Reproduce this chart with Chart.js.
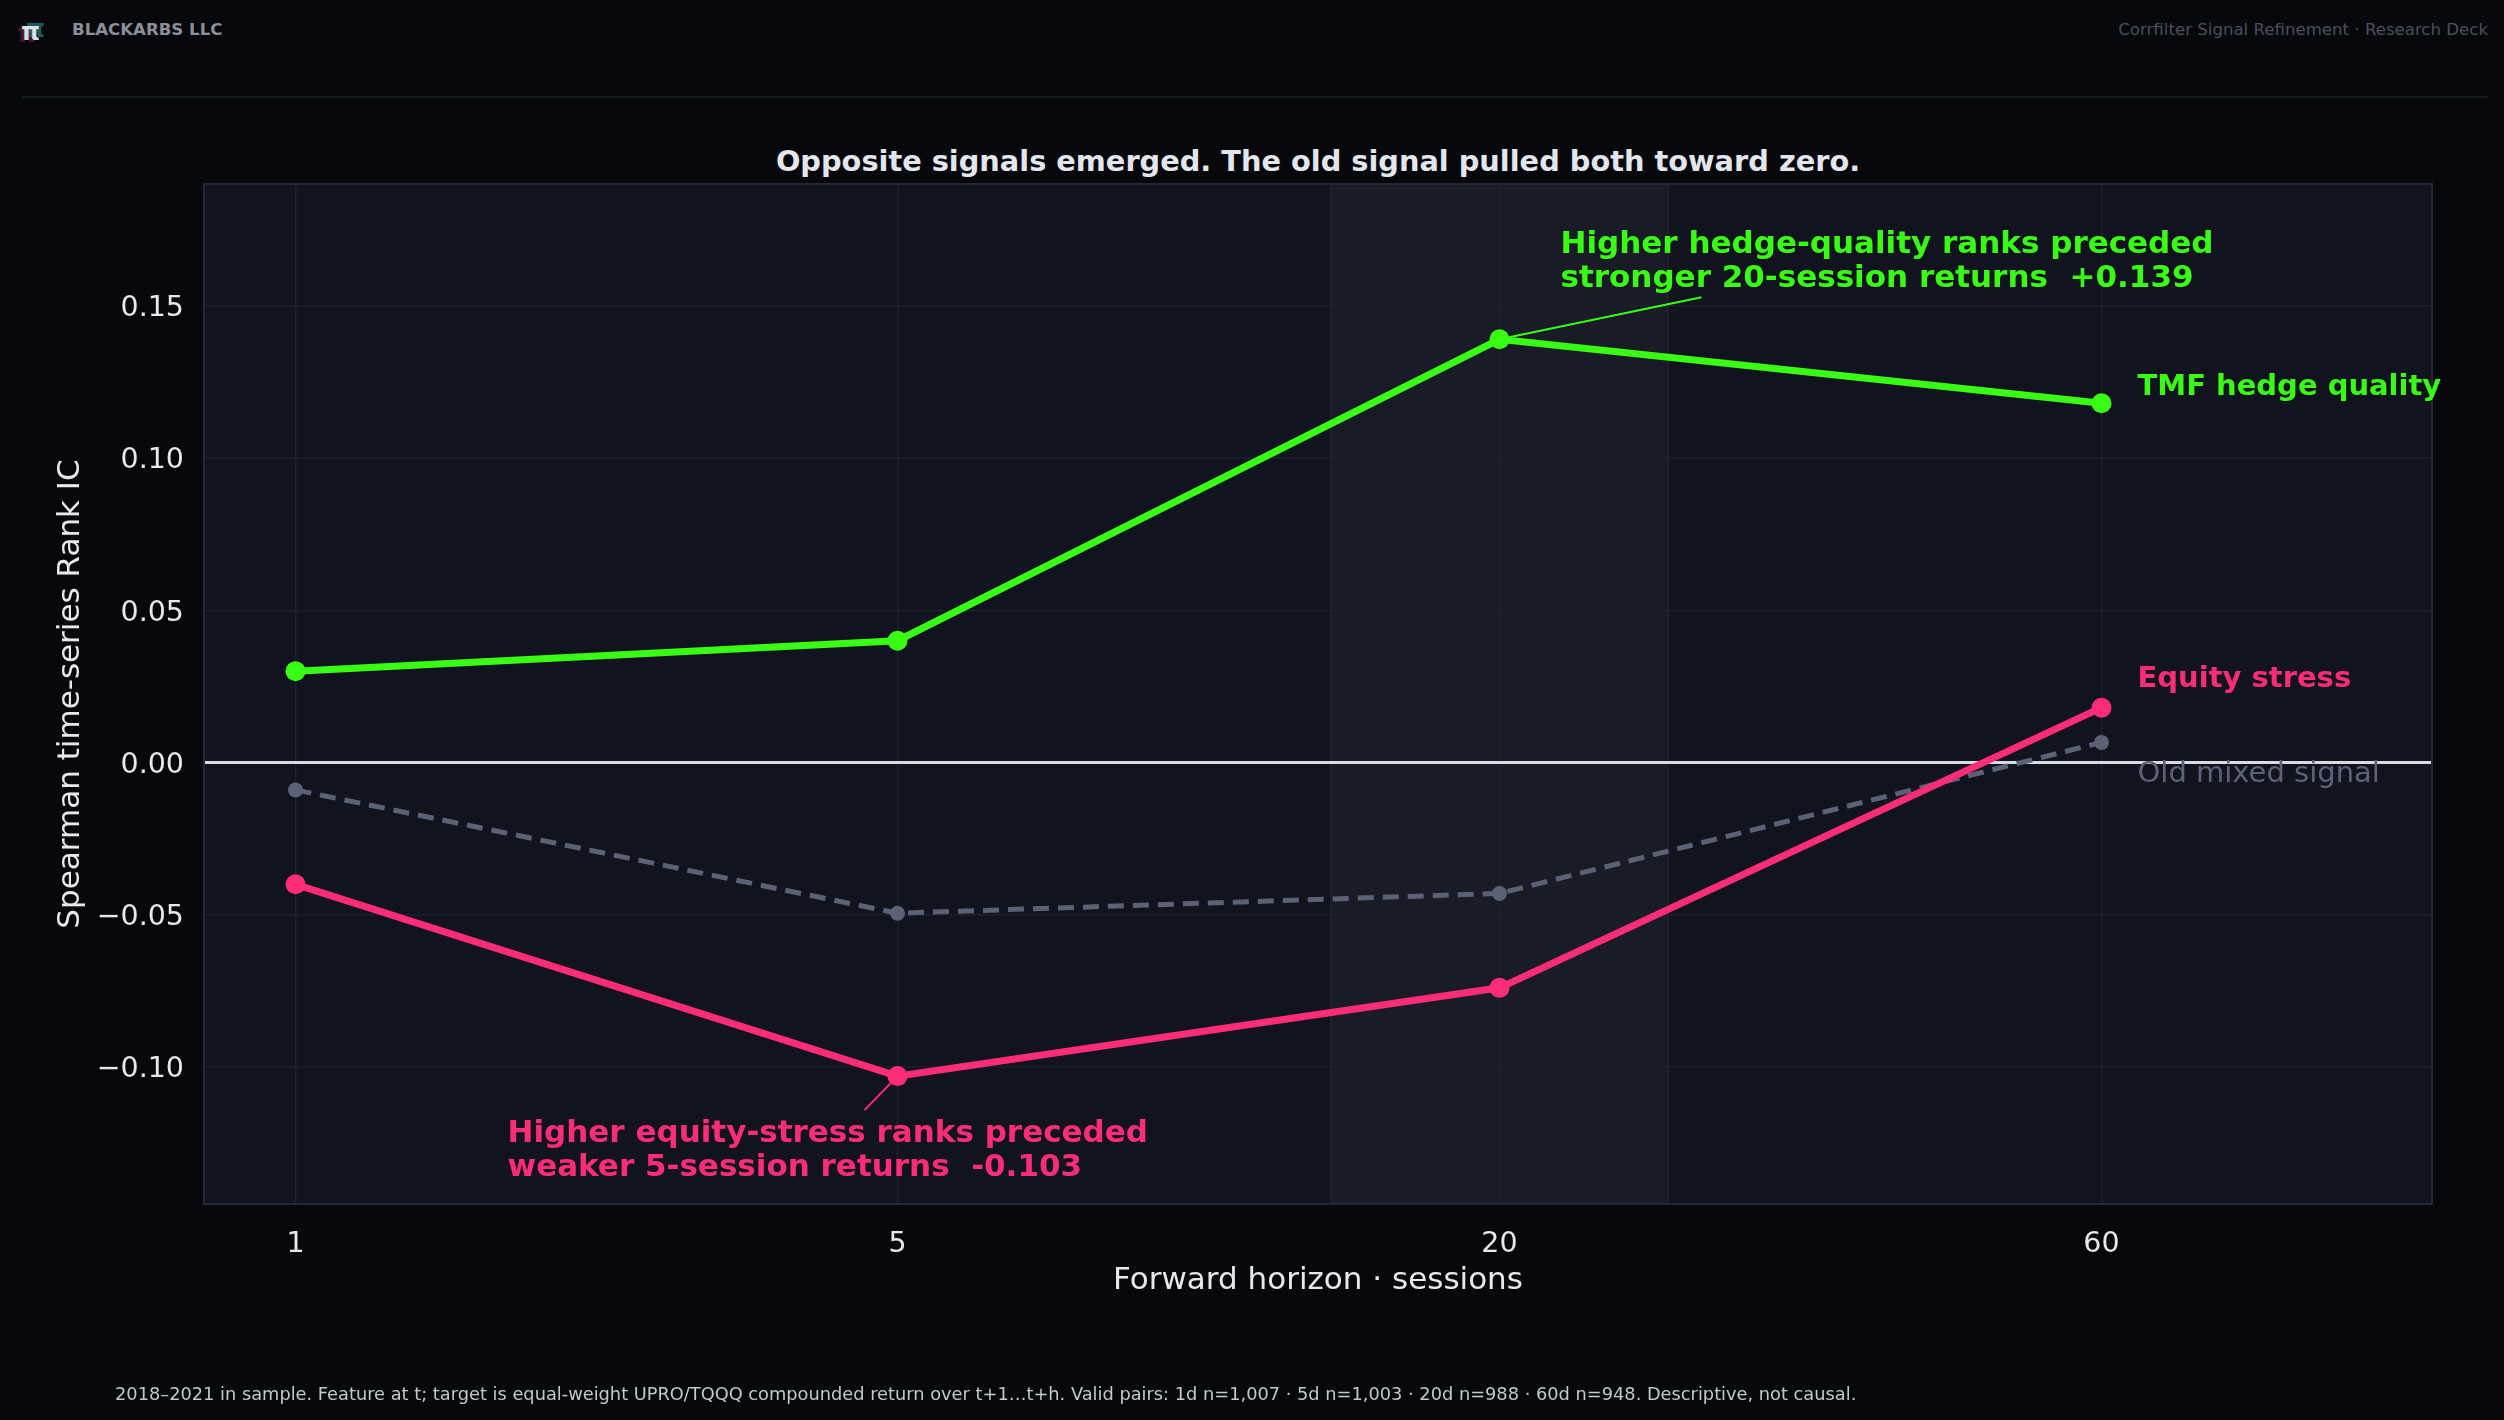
<!DOCTYPE html>
<html>
<head>
<meta charset="utf-8">
<title>Rank IC by horizon</title>
<script src="https://cdn.jsdelivr.net/npm/chart.js@4.4.1/dist/chart.umd.min.js"></script>
<style>
  html, body { margin: 0; padding: 0; background: #07080c; }
  body { width: 2504px; height: 1420px; position: relative; overflow: hidden; font-family: "DejaVu Sans", sans-serif; }
  .abs { position: absolute; white-space: nowrap; }
  #logo { left: 20px; top: 16px; width: 30px; height: 30px; }
  #logo span { position: absolute; font: bold 24px "DejaVu Sans"; line-height: 24px; }
  #brand { left: 72px; top: 20px; font-size: 16.6px; line-height: 20px; font-weight: bold; color: #8b8f99; }
  #deck { right: 16px; top: 20px; font-size: 16.6px; line-height: 20px; color: #4a4f5e; }
  #rule { left: 21px; top: 96px; width: 2467px; height: 2px; background: #161922; }
  #title { left: 204px; top: 145px; width: 2228px; text-align: center; font-size: 28.8px; line-height: 32px; font-weight: bold; color: #e3e6ec; }
  #note { left: 115px; top: 1384px; font-size: 17.8px; line-height: 20px; color: #c4c7ce; }
  #wrap { position: absolute; left: 0; top: 0; width: 2504px; height: 1420px; }
</style>
</head>
<body>
<div id="logo" class="abs">
  <span style="left:-3px;top:6px;color:#4a1527">π</span>
  <span style="left:6px;top:1px;color:#1d5a60">π</span>
  <span style="left:1px;top:4px;color:#dcdfe6">π</span>
</div>
<div id="brand" class="abs">BLACKARBS LLC</div>
<div id="deck" class="abs">Corrfilter Signal Refinement · Research Deck</div>
<div id="rule" class="abs"></div>
<div id="title" class="abs">Opposite signals emerged. The old signal pulled both toward zero.</div>
<div id="wrap"><canvas id="grafico"></canvas></div>
<div id="note" class="abs">2018–2021 in sample. Feature at t; target is equal-weight UPRO/TQQQ compounded return over t+1…t+h. Valid pairs: 1d n=1,007 · 5d n=1,003 · 20d n=988 · 60d n=948. Descriptive, not causal.</div>

<script>
// forward horizons (sessions)
const horizons = ['1', '5', '20', '60'];

// Spearman rank IC per horizon
const tmfHedge = [0.030, 0.040, 0.139, 0.118];
const equityStress = [-0.040, -0.103, -0.074, 0.018];
const oldMixed = [-0.009, -0.0495, -0.043, 0.0066];

// shaded span around the 20-session horizon (in horizon index units)
const highlightSpan = [1.72, 2.28];

const VERDE = '#39ff14';
const ROSA = '#ff2d78';
const CINZA = '#5b6275';
const FONTE = '"DejaVu Sans", sans-serif';

function pontos(serie) {
  return serie.map((v, i) => ({ x: i, y: v }));
}

// callouts, tied to a dataset/point; offsets in px from that point
const notas = [
  { ds: 0, idx: 2, cor: VERDE, linhas: ['Higher hedge-quality ranks preceded', 'stronger 20-session returns  +0.139'],
    dx: 61, dy: -86, lead: [202, -42] },
  { ds: 1, idx: 1, cor: ROSA, linhas: ['Higher equity-stress ranks preceded', 'weaker 5-session returns  -0.103'],
    dx: -390, dy: 66, lead: [-33, 34] }
];

// series names at the right end
const rotulos = [
  { ds: 0, texto: 'TMF hedge quality', cor: VERDE, bold: true, dy: -8 },
  { ds: 1, texto: 'Equity stress', cor: ROSA, bold: true, dy: -21 },
  { ds: 2, texto: 'Old mixed signal', cor: CINZA, bold: false, dy: 40 }
];

const decoracao = {
  id: 'decoracao',
  beforeDraw(chart) {
    const { ctx, chartArea: a, scales: { x } } = chart;
    ctx.save();
    ctx.fillStyle = '#11131f';
    ctx.fillRect(a.left, a.top, a.right - a.left, a.bottom - a.top);
    const x0 = x.getPixelForValue(highlightSpan[0]);
    const x1 = x.getPixelForValue(highlightSpan[1]);
    ctx.fillStyle = '#191b27';
    ctx.fillRect(x0, a.top, x1 - x0, a.bottom - a.top);
    ctx.strokeStyle = '#22252f';
    ctx.lineWidth = 1.5;
    ctx.beginPath();
    ctx.moveTo(x0, a.top); ctx.lineTo(x0, a.bottom);
    ctx.moveTo(x1, a.top); ctx.lineTo(x1, a.bottom);
    ctx.stroke();
    ctx.restore();
  },
  afterDraw(chart) {
    const { ctx, chartArea: a } = chart;
    ctx.save();
    ctx.strokeStyle = '#23273a';
    ctx.lineWidth = 2;
    ctx.strokeRect(a.left, a.top, a.right - a.left, a.bottom - a.top);

    ctx.textBaseline = 'alphabetic';
    ctx.textAlign = 'left';
    notas.forEach(n => {
      const p = chart.getDatasetMeta(n.ds).data[n.idx];
      ctx.strokeStyle = n.cor;
      ctx.lineWidth = 2;
      ctx.beginPath();
      ctx.moveTo(p.x, p.y);
      ctx.lineTo(p.x + n.lead[0], p.y + n.lead[1]);
      ctx.stroke();
      ctx.fillStyle = n.cor;
      ctx.font = 'bold 31px ' + FONTE;
      n.linhas.forEach((l, k) => ctx.fillText(l, p.x + n.dx, p.y + n.dy + k * 34));
    });

    rotulos.forEach(r => {
      const pts = chart.getDatasetMeta(r.ds).data;
      const p = pts[pts.length - 1];
      ctx.fillStyle = r.cor;
      ctx.font = (r.bold ? 'bold ' : '') + '29px ' + FONTE;
      ctx.fillText(r.texto, p.x + 36, p.y + r.dy);
    });
    ctx.restore();
  }
};

var ctx = document.getElementById('grafico').getContext('2d');
var grafico = new Chart(ctx, {
  type: 'line',
  data: {
    datasets: [{
      label: 'TMF hedge quality',
      data: pontos(tmfHedge),
      borderColor: VERDE,
      backgroundColor: VERDE,
      borderWidth: 7,
      pointRadius: 10,
      pointHoverRadius: 10,
      pointBorderWidth: 0
    }, {
      label: 'Equity stress',
      data: pontos(equityStress),
      borderColor: ROSA,
      backgroundColor: ROSA,
      borderWidth: 7,
      pointRadius: 10,
      pointHoverRadius: 10,
      pointBorderWidth: 0
    }, {
      label: 'Old mixed signal',
      data: pontos(oldMixed),
      borderColor: CINZA,
      backgroundColor: CINZA,
      borderWidth: 5,
      borderDash: [16, 9],
      pointRadius: 7.5,
      pointHoverRadius: 7.5,
      pointBorderWidth: 0
    }]
  },
  options: {
    responsive: true,
    maintainAspectRatio: false,
    animation: false,
    layout: { padding: { top: 184, right: 72, bottom: 120, left: 0 } },
    plugins: { legend: { display: false }, tooltip: { enabled: false } },
    scales: {
      x: {
        type: 'linear',
        min: -0.152,
        max: 3.549,
        afterFit(s) { s.height = 96; },
        border: { display: false },
        grid: { color: '#1c1f2d', lineWidth: 1.5, drawTicks: false },
        ticks: {
          stepSize: 1,
          includeBounds: false,
          padding: 23,
          color: '#e6e8ee',
          font: { family: FONTE, size: 28.5 },
          callback: v => horizons[v] !== undefined ? horizons[v] : ''
        },
        title: { display: true, text: 'Forward horizon · sessions', color: '#e6e8ee', font: { family: FONTE, size: 31 }, padding: 0 }
      },
      y: {
        min: -0.145,
        max: 0.19,
        afterFit(s) { s.width = 204; },
        border: { display: false },
        grid: {
          drawTicks: false,
          color: c => Math.abs(c.tick.value) < 1e-9 ? '#d9dbe2' : '#1c1f2d',
          lineWidth: c => Math.abs(c.tick.value) < 1e-9 ? 3 : 1.5
        },
        ticks: {
          stepSize: 0.05,
          includeBounds: false,
          padding: 20,
          labelOffset: 3,
          color: '#e6e8ee',
          font: { family: FONTE, size: 28.5 },
          callback: v => (v < -1e-9 ? '\u2212' : '') + Math.abs(v).toFixed(2)
        },
        title: { display: true, text: 'Spearman time-series Rank IC', color: '#e6e8ee', font: { family: FONTE, size: 31 }, padding: { top: 52, bottom: 0 } }
      }
    }
  },
  plugins: [decoracao]
});
</script>
</body>
</html>
